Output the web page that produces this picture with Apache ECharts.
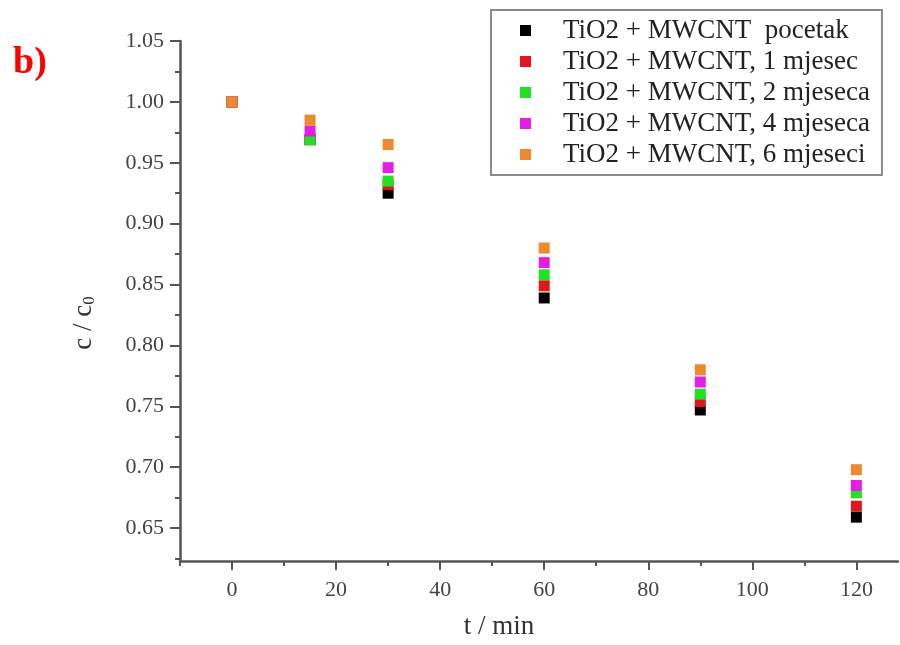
<!DOCTYPE html>
<html>
<head>
<meta charset="utf-8">
<script src="https://cdn.jsdelivr.net/npm/echarts@6/dist/echarts.min.js"></script>
<style>
html,body{margin:0;padding:0;background:#fff;}
#chart{width:900px;height:645px;}
</style>
</head>
<body>
<div id="chart"></div>
<script>
const times = [0, 15, 30, 60, 90, 120];
const seriesNames = [
  'TiO2 + MWCNT  pocetak',
  'TiO2 + MWCNT, 1 mjesec',
  'TiO2 + MWCNT, 2 mjeseca',
  'TiO2 + MWCNT, 4 mjeseca',
  'TiO2 + MWCNT, 6 mjeseci'
];
const pocetak = [1.000, 0.969, 0.925, 0.839, 0.747, 0.659];
const mjesec1 = [1.000, 0.969, 0.932, 0.849, 0.754, 0.668];
const mjeseca2 = [1.000, 0.969, 0.935, 0.858, 0.760, 0.679];
const mjeseca4 = [1.000, 0.976, 0.946, 0.868, 0.770, 0.685];
const mjeseci6 = [1.000, 0.985, 0.965, 0.880, 0.780, 0.698];
const xTicks = [0, 20, 40, 60, 80, 100, 120];
const xMinorTicks = [-10, 10, 30, 50, 70, 90, 110];
const yTicks = [0.65, 0.70, 0.75, 0.80, 0.85, 0.90, 0.95, 1.00, 1.05];
const yMinorTicks = [0.625, 0.675, 0.725, 0.775, 0.825, 0.875, 0.925, 0.975, 1.025];

const colors = ['#000000', '#e0181e', '#22e022', '#e51ee5', '#ee8a2e'];
const allData = [pocetak, mjesec1, mjeseca2, mjeseca4, mjeseci6];

const font = '"Liberation Serif", "Times New Roman", serif';
const axisColor = '#555';
const xMin = -10, xMax = 128, yMin = 0.623, yMax = 1.05;

const chart = echarts.init(document.getElementById('chart'), null, {renderer: 'canvas'});
chart.setOption({
  animation: false,
  backgroundColor: '#fff',
  textStyle: {fontFamily: font},
  graphic: [{
    type: 'text', left: 13, top: 44,
    style: {text: 'b)', fill: '#ff0000', font: 'bold 38px ' + font}
  }],
  legend: {
    orient: 'vertical',
    left: 491, top: 10,
    padding: [7, 12, 7, 29],
    itemGap: 4,
    itemWidth: 11, itemHeight: 11,
    icon: 'rect',
    borderColor: '#8a8a8a', borderWidth: 2,
    textStyle: {fontFamily: font, fontSize: 27, lineHeight: 26, color: '#222', padding: [0, 0, 0, 27]},
    data: seriesNames
  },
  grid: {left: 180, right: 2, top: 41, bottom: 78, containLabel: false},
  xAxis: [{
    type: 'value', min: xMin, max: xMax,
    name: 't / min', nameLocation: 'middle', nameGap: 52,
    nameTextStyle: {fontFamily: font, fontSize: 27, color: '#333', padding: [0, 80, 0, 0]},
    axisLine: {onZero: false, lineStyle: {color: axisColor, width: 2.5}},
    axisTick: {show: true, inside: false, length: 9, customValues: xTicks, lineStyle: {color: axisColor, width: 2}},
    axisLabel: {customValues: xTicks, fontFamily: font, fontSize: 22, color: '#444', margin: 18},
    splitLine: {show: false}
  }, {
    type: 'value', min: xMin, max: xMax, position: 'bottom',
    axisLine: {show: false, onZero: false},
    axisTick: {show: true, inside: false, length: 5, customValues: xMinorTicks, lineStyle: {color: axisColor, width: 2}},
    axisLabel: {show: false},
    splitLine: {show: false}
  }],
  yAxis: [{
    type: 'value', min: yMin, max: yMax,
    name: '{a|c / c}{s|0}', nameLocation: 'middle', nameGap: 82, nameRotate: 90,
    nameTextStyle: {
      color: '#333', padding: [0, 44, 0, 0],
      rich: {
        a: {fontFamily: font, fontSize: 27, color: '#333'},
        s: {fontFamily: font, fontSize: 17, color: '#333', padding: [12, 0, 0, 0]}
      }
    },
    axisLine: {show: true, onZero: false, lineStyle: {color: axisColor, width: 2.5}},
    axisTick: {show: true, inside: false, length: 10, customValues: yTicks, lineStyle: {color: axisColor, width: 2}},
    axisLabel: {customValues: yTicks, fontFamily: font, fontSize: 22, color: '#444', margin: 16,
      formatter: v => v.toFixed(2)},
    splitLine: {show: false}
  }, {
    type: 'value', min: yMin, max: yMax, position: 'left',
    axisLine: {show: false, onZero: false},
    axisTick: {show: true, inside: false, length: 5, customValues: yMinorTicks, lineStyle: {color: axisColor, width: 2}},
    axisLabel: {show: false},
    splitLine: {show: false}
  }],
  series: seriesNames.map((name, i) => ({
    name: name,
    type: 'scatter',
    symbol: 'rect',
    symbolSize: 11,
    itemStyle: {color: colors[i], opacity: 1},
    z: 2 + i,
    data: times.map((t, j) => [t, allData[i][j]])
  }))
});
</script>
</body>
</html>
